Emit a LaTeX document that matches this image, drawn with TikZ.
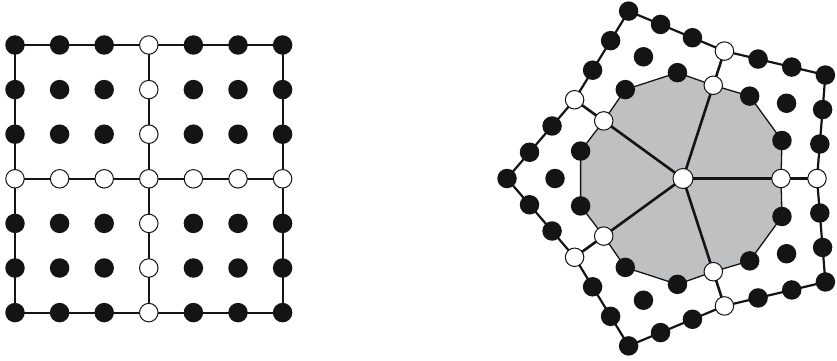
\documentclass[tikz,border=0pt]{standalone}
\usetikzlibrary{calc}
\pgfdeclarelayer{background}
\pgfsetlayers{background,main}
\definecolor{dotblack}{RGB}{20,20,20}
\definecolor{fillgray}{RGB}{191,192,194}
\begin{document}
\begin{tikzpicture}[x=1pt,y=-1pt,
  bdot/.style={circle,fill=dotblack,inner sep=0pt,minimum size=19.5pt},
  wdot/.style={circle,fill=white,draw=dotblack,line width=1pt,inner sep=0pt,minimum size=18.5pt},
  frame/.style={line width=2.2pt,draw=dotblack,line join=round},
  spoke/.style={line width=2.6pt,draw=dotblack},
  rim/.style={line width=1.3pt,draw=dotblack,fill=fillgray,line join=round}]
\useasboundingbox (0,0) rectangle (837,361);
% left grid
\foreach \i in {0,...,6}{
  \foreach \j in {0,...,6}{
    \pgfmathtruncatemacro\w{(\i==3)||(\j==3)}
    \ifnum\w=1
      \node[wdot] (g\i\j) at ({15+44.6*\i},{45+44.6*\j}) {};
    \else
      \node[bdot] (g\i\j) at ({15+44.6*\i},{45+44.6*\j}) {};
    \fi
  }
}
% right figure
\coordinate (C) at (683,178.5);
\node[wdot,minimum size=20pt] (c) at (C) {};
\foreach \k in {0,...,4}{
  \pgfmathsetmacro\a{72*\k}
  \node[wdot] (a\k) at ([shift={(\a:98pt)}]C) {};
  \node[wdot] (o\k) at ([shift={(\a:134pt)}]C) {};
  \node[bdot] (v\k) at ([shift={(\a+36:176pt)}]C) {};
  \node[bdot] (p\k) at ([shift={(\a+21:106pt)}]C) {};
  \node[bdot] (q\k) at ([shift={(\a+51:106pt)}]C) {};
  \node[bdot] (m\k) at ([shift={(\a+36:128pt)}]C) {};
}
\foreach \k in {0,...,4}{
  \pgfmathtruncatemacro\n{mod(\k+1,5)}
  \node[bdot] (ea\k) at ($(o\k)!1/3!(v\k)$) {};
  \node[bdot] (eb\k) at ($(o\k)!2/3!(v\k)$) {};
  \node[bdot] (ec\k) at ($(v\k)!1/3!(o\n)$) {};
  \node[bdot] (ed\k) at ($(v\k)!2/3!(o\n)$) {};
}
\begin{pgfonlayer}{background}
  \path[rim] (a0.center)--(p0.center)--(q0.center)--(a1.center)--(p1.center)--(q1.center)--(a2.center)--(p2.center)--(q2.center)--(a3.center)--(p3.center)--(q3.center)--(a4.center)--(p4.center)--(q4.center)--cycle;
  \foreach \k in {0,...,4}{\draw[spoke] (c.center)--(a\k.center)--(o\k.center);}
  \draw[frame] (o0.center)--(v0.center)--(o1.center)--(v1.center)--(o2.center)--(v2.center)--(o3.center)--(v3.center)--(o4.center)--(v4.center)--cycle;
  \draw[frame] (g00.center)--(g60.center)--(g66.center)--(g06.center)--cycle;
  \draw[frame] (g30.center)--(g36.center);
  \draw[frame] (g03.center)--(g63.center);
\end{pgfonlayer}
\end{tikzpicture}
\end{document}
